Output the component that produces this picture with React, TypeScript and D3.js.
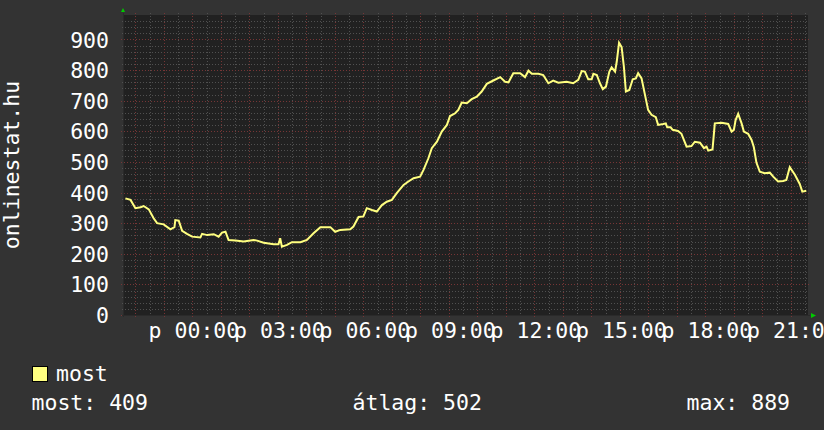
import React, { useEffect, useRef } from "react";
import * as d3 from "d3";

// hours relative to midnight (negative = previous evening)
const hours = [
  -2.35, -2.17, -2.0, -1.82, -1.71, -1.53, -1.36, -1.24, -1.01, -0.77, -0.63, -0.6, -0.48, -0.36, -0.19, -0.01,
  0.28, 0.34, 0.52, 0.75, 0.92, 1.04, 1.16, 1.27, 1.51, 1.8, 2.15, 2.27, 2.5, 2.85, 3.02, 3.08, 3.14, 3.32, 3.49,
  3.79, 4.02, 4.25, 4.49, 4.84, 5.01, 5.19, 5.54, 5.65, 5.83, 6.0, 6.12, 6.3, 6.47, 6.65, 6.82, 7.0, 7.17, 7.41,
  7.58, 7.76, 7.99, 8.11, 8.28, 8.4, 8.58, 8.75, 8.93, 9.04, 9.22, 9.33, 9.45, 9.63, 9.8, 9.98, 10.15, 10.33,
  10.56, 10.8, 10.97, 11.09, 11.26, 11.5, 11.67, 11.79, 11.91, 12.14, 12.31, 12.49, 12.66, 12.84, 13.13, 13.36,
  13.54, 13.66, 13.77, 13.89, 14.01, 14.07, 14.19, 14.3, 14.4, 14.51, 14.63, 14.71, 14.83, 14.89, 14.97, 15.06,
  15.14, 15.21, 15.33, 15.45, 15.56, 15.64, 15.76, 15.88, 15.99, 16.11, 16.26, 16.34, 16.52, 16.61, 16.66, 16.78,
  16.85, 17.04, 17.16, 17.34, 17.51, 17.63, 17.81, 17.95, 18.04, 18.1, 18.25, 18.33, 18.57, 18.8, 18.92, 19.0,
  19.06, 19.15, 19.27, 19.35, 19.5, 19.62, 19.7, 19.79, 19.91, 20.08, 20.26, 20.38, 20.55, 20.73, 20.84, 20.96,
  21.14, 21.31, 21.4, 21.54,
];

const values = [
  381, 376, 349, 352, 356, 345, 316, 300, 296, 280, 287, 310, 308, 275, 265, 256,
  253, 265, 261, 264, 256, 269, 272, 245, 243, 240, 245, 243, 236, 231, 231, 251, 223, 229, 238,
  238, 245, 267, 287, 287, 272, 278, 280, 289, 320, 322, 349, 343, 338, 359, 370, 376, 398, 425,
  436, 447, 452, 474, 512, 545, 566, 599, 621, 650, 659, 670, 694, 692, 705, 713, 730, 755,
  766, 777, 762, 760, 790, 790, 777, 798, 788, 788, 784, 757, 766, 759, 762, 757,
  768, 797, 795, 770, 770, 788, 784, 757, 738, 746, 795, 809, 795, 828, 889, 875,
  811, 730, 735, 770, 773, 790, 773, 719, 670, 654, 646, 621, 624, 626, 613, 613,
  605, 601, 592, 550, 552, 566, 563, 545, 550, 537, 541, 626, 628, 624, 599, 605,
  637, 657, 626, 599, 592, 572, 548, 498, 468, 463, 465, 452, 436, 438, 441, 483,
  458, 428, 403, 406,
];

const xTickHours = [0, 3, 6, 9, 12, 15, 18, 21];
const yTickValues = [0, 100, 200, 300, 400, 500, 600, 700, 800, 900];
const seriesName = "most";
const axisTitle = "onlinestat.hu";
const summary = [
  { label: "most", value: 409 },
  { label: "átlag", value: 502 },
  { label: "max", value: 889 },
];

const OnlineChart = () => {
  const svgRef = useRef<SVGSVGElement>(null);

  useEffect(() => {
    const width = 824;
    const height = 430;
    const plot = { left: 124, right: 808, top: 15, bottom: 315 };
    const font = "'DejaVu Sans Mono', monospace";
    const fs = 21.5;

    const svg = d3.select(svgRef.current);
    svg.selectAll("*").remove();
    svg.attr("width", width).attr("height", height);

    const x = d3.scaleLinear().domain([-2.4, 21.6]).range([plot.left, plot.right]);
    const y = d3.scaleLinear().domain([0, 980]).range([plot.bottom, plot.top]);
    const px = (v: number) => Math.round(v) + 0.5;

    // backgrounds
    svg.append("rect").attr("width", width).attr("height", height).attr("fill", "#333333");
    svg
      .append("rect")
      .attr("x", plot.left)
      .attr("y", plot.top)
      .attr("width", plot.right - plot.left)
      .attr("height", plot.bottom - plot.top)
      .attr("fill", "#212121");

    const grid = svg.append("g");

    // minor grid
    d3.range(-2, 21.6, 0.5)
      .filter((h) => h % 1 !== 0)
      .forEach((h) => {
        grid
          .append("line")
          .attr("x1", px(x(h)))
          .attr("x2", px(x(h)))
          .attr("y1", plot.top - 2)
          .attr("y2", plot.bottom)
          .attr("stroke", "#505050")
          .attr("stroke-dasharray", "1,2");
      });
    d3.range(0, 980, 20)
      .filter((v) => v % 100 !== 0)
      .forEach((v) => {
        grid
          .append("line")
          .attr("x1", plot.left - 2)
          .attr("x2", plot.right)
          .attr("y1", px(y(v)))
          .attr("y2", px(y(v)))
          .attr("stroke", "#505050")
          .attr("stroke-dasharray", "1,2");
      });

    // major grid
    d3.range(-2, 22, 1).forEach((h) => {
      grid
        .append("line")
        .attr("x1", px(x(h)))
        .attr("x2", px(x(h)))
        .attr("y1", plot.top - 2)
        .attr("y2", plot.bottom + 3)
        .attr("stroke", "#763535")
        .attr("stroke-dasharray", "1,2");
    });
    yTickValues.forEach((v) => {
      grid
        .append("line")
        .attr("x1", plot.left - 3)
        .attr("x2", plot.right + 2)
        .attr("y1", px(y(v)))
        .attr("y2", px(y(v)))
        .attr("stroke", "#763535")
        .attr("stroke-dasharray", "1,2");
    });

    // axis lines
    svg
      .append("line")
      .attr("x1", plot.left - 0.5)
      .attr("x2", plot.left - 0.5)
      .attr("y1", plot.top - 2)
      .attr("y2", plot.bottom + 2)
      .attr("stroke", "#2a2a2a");
    svg
      .append("line")
      .attr("x1", plot.left - 2)
      .attr("x2", plot.right + 2)
      .attr("y1", plot.bottom + 0.5)
      .attr("y2", plot.bottom + 0.5)
      .attr("stroke", "#2a2a2a");

    // green arrows
    svg
      .append("path")
      .attr("d", `M${plot.left - 3},${plot.top - 3} L${plot.left + 1},${plot.top - 3} L${plot.left - 1},${plot.top - 7} Z`)
      .attr("fill", "#00cc00");
    svg
      .append("path")
      .attr("d", `M${plot.right + 3},${plot.bottom - 2} L${plot.right + 3},${plot.bottom + 3} L${plot.right + 8},${plot.bottom + 0.5} Z`)
      .attr("fill", "#00cc00");

    // y axis labels
    const yAxis = svg
      .append("g")
      .attr("transform", `translate(109,0)`)
      .call(d3.axisLeft(y).tickValues(yTickValues).tickSize(0).tickPadding(0));
    yAxis.select(".domain").remove();
    yAxis
      .selectAll("text")
      .attr("dy", "0.35em")
      .attr("fill", "#ffffff")
      .style("font-family", font)
      .style("font-size", `${fs}px`);

    // x axis labels
    const pad = (h: number) => String(h).padStart(2, "0");
    const xAxis = svg
      .append("g")
      .attr("transform", `translate(1,323)`)
      .call(
        d3
          .axisBottom(x)
          .tickValues(xTickHours)
          .tickFormat((h) => `p ${pad(+h)}:00`)
          .tickSize(0)
          .tickPadding(0)
      );
    xAxis.select(".domain").remove();
    xAxis
      .selectAll("text")
      .attr("fill", "#ffffff")
      .style("font-family", font)
      .style("font-size", `${fs}px`);

    // vertical title
    svg
      .append("text")
      .attr("transform", `translate(19,${(plot.top + plot.bottom) / 2}) rotate(-90)`)
      .attr("text-anchor", "middle")
      .attr("fill", "#ffffff")
      .style("font-family", font)
      .style("font-size", `${fs}px`)
      .text(axisTitle);

    // data line
    const points = hours.map((h, i) => [h, values[i]] as [number, number]);
    const line = d3
      .line<[number, number]>()
      .x((d) => x(d[0]))
      .y((d) => y(d[1]))
      .curve(d3.curveLinear);
    svg
      .append("path")
      .datum(points)
      .attr("d", line)
      .attr("fill", "none")
      .attr("stroke", "#ffff80")
      .attr("stroke-width", 2)
      .attr("stroke-linejoin", "miter");

    // legend
    svg
      .append("rect")
      .attr("x", 32.5)
      .attr("y", 366.5)
      .attr("width", 15)
      .attr("height", 15)
      .attr("fill", "#ffff80")
      .attr("stroke", "#000000");
    svg
      .append("text")
      .attr("x", 56)
      .attr("y", 381)
      .attr("fill", "#ffffff")
      .style("font-family", font)
      .style("font-size", `${fs}px`)
      .text(seriesName);

    const summaryX = [31.5, 352.5, 686.5];
    summary.forEach((s, i) => {
      svg
        .append("text")
        .attr("x", summaryX[i])
        .attr("y", 410)
        .attr("fill", "#ffffff")
        .style("font-family", font)
        .style("font-size", `${fs}px`)
        .text(`${s.label}: ${s.value}`);
    });
  }, []);

  return <svg ref={svgRef} style={{ position: "absolute", left: 0, top: 0 }}></svg>;
};

export default function App() {
  return <OnlineChart />;
}
